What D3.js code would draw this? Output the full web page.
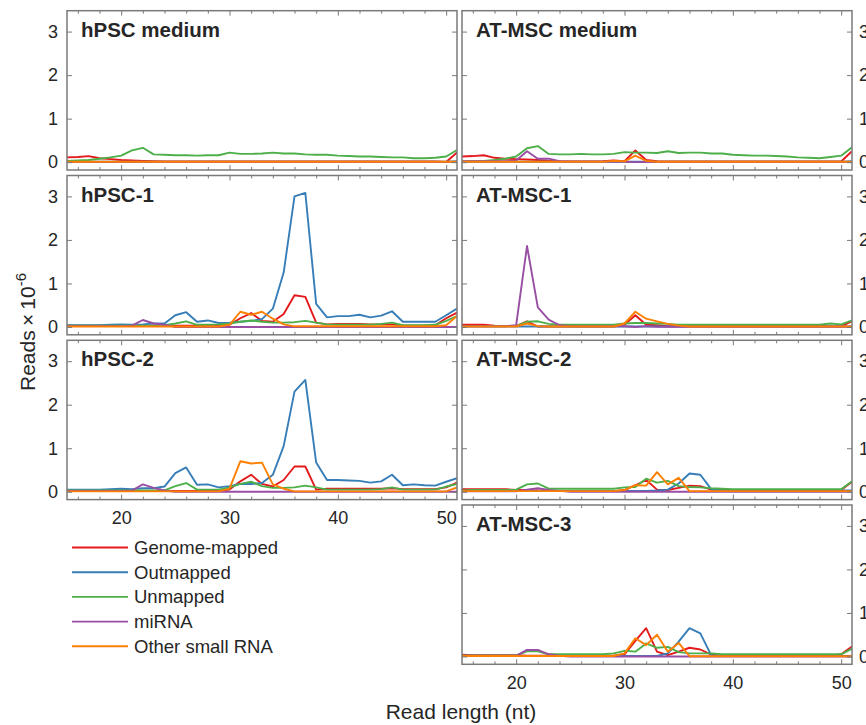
<!DOCTYPE html>
<html>
<head>
<meta charset="utf-8">
<script src="https://cdn.jsdelivr.net/npm/d3@7"></script>
<style>
  body { margin: 0; background: #fff; }
  text { font-family: "Liberation Sans", Arial, sans-serif; fill: #262626; }
</style>
</head>
<body>
<script>
// read length (nt) on the x axis
const readLength = [15,16,17,18,19,20,21,22,23,24,25,26,27,28,29,30,31,32,33,34,35,36,37,38,39,40,41,42,43,44,45,46,47,48,49,50,51];

const seriesNames = ["Genome-mapped", "Outmapped", "Unmapped", "miRNA", "Other small RNA"];
const seriesColors = ["#e41a1c", "#377eb8", "#4daf4a", "#984ea3", "#ff7f00"];
const yTicks = [0, 1, 2, 3];
const xTicks = [20, 30, 40, 50];
const xMinor = [16, 18, 22, 24, 26, 28, 32, 34, 36, 38, 42, 44, 46, 48];

// values are reads x 10^-6, one per read length
const hpscMediumGenome = [0.11,0.12,0.14,0.09,0.07,0.05,0.04,0.03,0.02,0.015,0.015,0.015,0.015,0.015,0.015,0.015,0.015,0.015,0.015,0.015,0.015,0.015,0.015,0.015,0.015,0.015,0.015,0.015,0.015,0.015,0.015,0.015,0.015,0.015,0.015,0.005,0.22];
const hpscMediumOut = [0.01,0.01,0.01,0.01,0.01,0.01,0.01,0.01,0.01,0.01,0.01,0.01,0.01,0.01,0.01,0.01,0.01,0.01,0.01,0.01,0.01,0.01,0.01,0.01,0.01,0.01,0.01,0.01,0.01,0.01,0.01,0.01,0.01,0.01,0.01,0.01,0.02];
const hpscMediumUn = [0.03,0.04,0.05,0.08,0.11,0.15,0.27,0.33,0.18,0.17,0.16,0.16,0.15,0.16,0.16,0.22,0.19,0.19,0.2,0.22,0.2,0.2,0.18,0.17,0.17,0.15,0.14,0.13,0.13,0.12,0.11,0.11,0.09,0.09,0.1,0.13,0.28];
const hpscMediumMi = [0.005,0.005,0.005,0.005,0.005,0.005,0.005,0.005,0.005,0.005,0.005,0.005,0.005,0.005,0.005,0.005,0.005,0.005,0.005,0.005,0.005,0.005,0.005,0.005,0.005,0.005,0.005,0.005,0.005,0.005,0.005,0.005,0.005,0.005,0.005,0.005,0.005];
const hpscMediumOther = [0.01,0.01,0.01,0.01,0.01,0.01,0.01,0.01,0.01,0.01,0.01,0.01,0.01,0.01,0.01,0.01,0.01,0.01,0.01,0.01,0.01,0.01,0.01,0.01,0.01,0.01,0.01,0.01,0.01,0.01,0.01,0.01,0.01,0.01,0.01,0.01,0.01];

const atmscMediumGenome = [0.13,0.14,0.16,0.1,0.08,0.07,0.06,0.05,0.03,0.015,0.015,0.015,0.015,0.02,0.04,0.02,0.27,0.05,0.02,0.015,0.015,0.015,0.015,0.015,0.015,0.015,0.015,0.015,0.015,0.015,0.015,0.015,0.015,0.015,0.015,0.015,0.25];
const atmscMediumOut = [0.01,0.01,0.01,0.01,0.01,0.01,0.01,0.01,0.01,0.01,0.01,0.01,0.01,0.01,0.01,0.01,0.01,0.01,0.01,0.01,0.01,0.01,0.01,0.01,0.01,0.01,0.01,0.01,0.01,0.01,0.01,0.01,0.01,0.01,0.01,0.01,0.02];
const atmscMediumUn = [0.015,0.02,0.03,0.05,0.08,0.13,0.32,0.37,0.19,0.18,0.18,0.19,0.18,0.18,0.19,0.23,0.22,0.22,0.21,0.25,0.21,0.22,0.22,0.2,0.2,0.17,0.16,0.15,0.15,0.14,0.13,0.11,0.1,0.09,0.12,0.15,0.34];
const atmscMediumMi = [0.02,0.02,0.02,0.02,0.02,0.04,0.25,0.08,0.08,0.02,0.01,0.01,0.01,0.01,0.01,0.01,0,0.005,0.005,0.005,0.005,0.005,0.005,0.005,0.005,0.005,0.005,0.005,0.005,0.005,0.005,0.005,0.005,0.005,0.005,0.005,0.005];
const atmscMediumOther = [0.01,0.01,0.01,0.01,0.01,0.01,0.01,0.01,0.01,0.01,0.01,0.01,0.01,0.01,0.03,0.02,0.15,0.03,0.01,0.01,0.01,0.01,0.01,0.01,0.01,0.01,0.01,0.01,0.01,0.01,0.01,0.01,0.01,0.01,0.01,0.01,0.01];

const hpsc1Genome = [0.03,0.03,0.03,0.03,0.03,0.03,0.03,0.03,0.03,0.03,0.03,0.03,0.03,0.03,0.03,0.05,0.2,0.32,0.14,0.12,0.3,0.73,0.69,0.1,0.06,0.07,0.07,0.07,0.06,0.06,0.06,0.03,0.03,0.03,0.04,0.2,0.33];
const hpsc1Out = [0.04,0.04,0.04,0.04,0.05,0.06,0.05,0.06,0.08,0.08,0.27,0.34,0.12,0.15,0.09,0.1,0.12,0.14,0.18,0.42,1.25,3.0,3.08,0.53,0.22,0.25,0.25,0.28,0.22,0.26,0.36,0.12,0.12,0.12,0.12,0.27,0.42];
const hpsc1Un = [0.03,0.03,0.03,0.03,0.03,0.03,0.03,0.03,0.03,0.04,0.08,0.13,0.05,0.05,0.06,0.08,0.12,0.15,0.12,0.1,0.1,0.11,0.14,0.1,0.06,0.05,0.05,0.05,0.05,0.07,0.1,0.04,0.04,0.04,0.05,0.14,0.25];
const hpsc1Mi = [0.02,0.02,0.02,0.02,0.02,0.02,0.03,0.16,0.08,0.05,0,0,0,0,0,0,0,0,0,0,0,0,0,0,0,0,0,0,0,0,0,0,0,0,0,0,0];
const hpsc1Other = [0.01,0.01,0.01,0.01,0.01,0.01,0.01,0.01,0.01,0.01,0.01,0.01,0.01,0.01,0.01,0.05,0.35,0.28,0.35,0.19,0.06,0.015,0.015,0.015,0.015,0.015,0.015,0.015,0.015,0.015,0.015,0.015,0.015,0.015,0.015,0.04,0.25];

const atmsc1Genome = [0.05,0.05,0.05,0.03,0.02,0.02,0.13,0.01,0.01,0.01,0.01,0.01,0.01,0.01,0.01,0.05,0.27,0.05,0.04,0.015,0.015,0.015,0.015,0.015,0.015,0.015,0.015,0.015,0.015,0.015,0.015,0.015,0.015,0.015,0.015,0.015,0.13];
const atmsc1Out = [0.01,0.01,0.01,0.01,0.01,0.01,0.01,0.01,0.01,0.01,0.01,0.01,0.01,0.01,0.01,0.01,0.01,0.01,0.01,0.01,0.01,0.01,0.01,0.01,0.01,0.01,0.01,0.01,0.01,0.01,0.01,0.01,0.01,0.01,0.01,0.01,0.01];
const atmsc1Un = [0.02,0.02,0.02,0.02,0.02,0.02,0.12,0.13,0.07,0.05,0.05,0.05,0.05,0.05,0.05,0.08,0.09,0.09,0.08,0.07,0.05,0.05,0.05,0.05,0.05,0.05,0.05,0.05,0.05,0.05,0.05,0.05,0.05,0.05,0.08,0.06,0.15];
const atmsc1Mi = [0.015,0.015,0.015,0.015,0.015,0.04,1.86,0.45,0.17,0.04,0.015,0.015,0.015,0.015,0.015,0.015,0,0.02,0.005,0.005,0.005,0.005,0.005,0.005,0.005,0.005,0.005,0.005,0.005,0.005,0.005,0.005,0.005,0.005,0.005,0.005,0.005];
const atmsc1Other = [0.01,0.01,0.01,0.01,0.01,0.01,0.08,0.02,0.01,0.01,0.01,0.01,0.01,0.01,0.01,0.08,0.35,0.19,0.13,0.07,0.03,0.01,0.01,0.01,0.01,0.01,0.01,0.01,0.01,0.01,0.01,0.01,0.01,0.01,0.01,0.01,0.01];

const hpsc2Genome = [0.02,0.02,0.02,0.02,0.02,0.02,0.02,0.02,0.02,0.02,0.02,0.02,0.02,0.02,0.02,0.05,0.24,0.39,0.18,0.12,0.27,0.58,0.58,0.05,0.07,0.07,0.07,0.07,0.07,0.07,0.08,0.06,0.06,0.06,0.06,0.1,0.21];
const hpsc2Out = [0.045,0.045,0.05,0.05,0.06,0.07,0.06,0.08,0.08,0.12,0.43,0.56,0.16,0.17,0.1,0.13,0.18,0.18,0.2,0.39,1.05,2.3,2.57,0.67,0.27,0.27,0.26,0.25,0.21,0.24,0.39,0.15,0.17,0.15,0.14,0.23,0.31];
const hpsc2Un = [0.03,0.03,0.03,0.03,0.03,0.03,0.03,0.03,0.03,0.03,0.13,0.2,0.05,0.05,0.05,0.1,0.18,0.23,0.13,0.09,0.09,0.1,0.14,0.1,0.05,0.05,0.05,0.05,0.05,0.06,0.1,0.05,0.05,0.05,0.05,0.12,0.18];
const hpsc2Mi = [0.02,0.02,0.02,0.02,0.02,0.02,0.03,0.17,0.09,0.03,0,0,0,0,0,0,0,0,0,0,0,0,0,0,0,0,0,0,0,0,0,0,0,0,0,0,0];
const hpsc2Other = [0.01,0.01,0.01,0.01,0.01,0.01,0.01,0.01,0.01,0.01,0.01,0.01,0.01,0.01,0.01,0.07,0.7,0.65,0.67,0.17,0.07,0.01,0.01,0.01,0.01,0.01,0.01,0.01,0.01,0.01,0.01,0.01,0.01,0.01,0.01,0.01,0.1];

const atmsc2Genome = [0.06,0.06,0.06,0.06,0.06,0.04,0.04,0.03,0.015,0.015,0.015,0.015,0.015,0.015,0.015,0.04,0.15,0.27,0.05,0.04,0.09,0.14,0.13,0.05,0.04,0.04,0.04,0.04,0.04,0.04,0.04,0.04,0.04,0.04,0.04,0.04,0.23];
const atmsc2Out = [0.02,0.02,0.02,0.02,0.02,0.02,0.02,0.02,0.02,0.02,0.02,0.02,0.02,0.02,0.02,0.02,0.02,0.02,0.03,0.05,0.19,0.42,0.39,0.06,0.03,0.03,0.03,0.03,0.03,0.03,0.03,0.03,0.03,0.03,0.03,0.03,0.03];
const atmsc2Un = [0.03,0.04,0.04,0.04,0.04,0.05,0.17,0.19,0.07,0.07,0.07,0.07,0.07,0.07,0.07,0.1,0.11,0.3,0.21,0.25,0.13,0.11,0.1,0.08,0.07,0.06,0.06,0.06,0.06,0.06,0.06,0.06,0.06,0.06,0.06,0.06,0.24];
const atmsc2Mi = [0.01,0.01,0.01,0.01,0.01,0.01,0.05,0.08,0.04,0.02,0,0,0,0,0,0,0,0,0,0,0,0,0,0,0,0,0,0,0,0,0,0,0,0,0,0,0];
const atmsc2Other = [0.015,0.015,0.015,0.015,0.015,0.015,0.015,0.015,0.015,0.015,0.015,0.015,0.015,0.015,0.015,0.04,0.15,0.14,0.45,0.17,0.32,0.015,0.015,0.015,0.015,0.015,0.015,0.015,0.015,0.015,0.015,0.015,0.015,0.015,0.015,0.015,0.015];

const atmsc3Genome = [0.04,0.03,0.03,0.03,0.03,0.03,0.015,0.015,0.015,0.015,0.015,0.015,0.015,0.015,0.015,0.05,0.36,0.65,0.11,0.03,0.11,0.2,0.16,0.04,0.015,0.015,0.015,0.015,0.015,0.015,0.015,0.015,0.015,0.015,0.015,0.05,0.23];
const atmsc3Out = [0.01,0.01,0.01,0.01,0.01,0.01,0.01,0.01,0.01,0.01,0.01,0.01,0.01,0.01,0.01,0.01,0.01,0.01,0.01,0.07,0.34,0.65,0.53,0.03,0.01,0.01,0.01,0.01,0.01,0.01,0.01,0.01,0.01,0.01,0.01,0.01,0.01];
const atmsc3Un = [0.025,0.025,0.025,0.025,0.025,0.025,0.12,0.12,0.05,0.05,0.05,0.05,0.05,0.05,0.07,0.13,0.11,0.3,0.2,0.22,0.1,0.07,0.07,0.07,0.05,0.05,0.05,0.05,0.05,0.05,0.05,0.05,0.05,0.05,0.05,0.05,0.18];
const atmsc3Mi = [0.015,0.015,0.015,0.015,0.015,0.015,0.15,0.15,0.05,0.015,0,0,0,0,0,0,0,0,0,0,0,0,0,0,0,0,0,0,0,0,0,0,0,0,0,0,0];
const atmsc3Other = [0.01,0.01,0.01,0.01,0.01,0.01,0.01,0.01,0.01,0.01,0.01,0.01,0.01,0.01,0.01,0.07,0.42,0.26,0.5,0.11,0.31,0.005,0.005,0.005,0.005,0.005,0.005,0.005,0.005,0.005,0.005,0.005,0.005,0.005,0.005,0.005,0.005];

const panels = [
  { title: "hPSC medium", col: 0, row: 0, series: [hpscMediumGenome, hpscMediumOut, hpscMediumUn, hpscMediumMi, hpscMediumOther] },
  { title: "hPSC-1", col: 0, row: 1, series: [hpsc1Genome, hpsc1Out, hpsc1Un, hpsc1Mi, hpsc1Other] },
  { title: "hPSC-2", col: 0, row: 2, series: [hpsc2Genome, hpsc2Out, hpsc2Un, hpsc2Mi, hpsc2Other], xLabels: true },
  { title: "AT-MSC medium", col: 1, row: 0, series: [atmscMediumGenome, atmscMediumOut, atmscMediumUn, atmscMediumMi, atmscMediumOther] },
  { title: "AT-MSC-1", col: 1, row: 1, series: [atmsc1Genome, atmsc1Out, atmsc1Un, atmsc1Mi, atmsc1Other] },
  { title: "AT-MSC-2", col: 1, row: 2, series: [atmsc2Genome, atmsc2Out, atmsc2Un, atmsc2Mi, atmsc2Other] },
  { title: "AT-MSC-3", col: 1, row: 3, series: [atmsc3Genome, atmsc3Out, atmsc3Un, atmsc3Mi, atmsc3Other], xLabels: true }
];

const width = 866, height = 725;
const colLeft = [67, 462];
const panelW = 390;
const rowTop = [10.7, 175.5, 340.3, 505];
const panelH = 159.3;
const frameColor = "#7a7a7a";

const svg = d3.select("body").append("svg").attr("width", width).attr("height", height);

panels.forEach((p, pi) => {
  const x0 = colLeft[p.col], y0 = rowTop[p.row];
  const x = d3.scaleLinear().domain([15, 51]).range([x0, x0 + panelW]);
  const y = d3.scaleLinear().domain([-0.18, 3.48]).range([y0 + panelH, y0]);
  const g = svg.append("g");

  const clipId = "clip" + pi;
  g.append("clipPath").attr("id", clipId)
    .append("rect").attr("x", x0).attr("y", y0).attr("width", panelW).attr("height", panelH);

  const line = d3.line().x((d, i) => x(readLength[i])).y(d => y(d));
  g.append("g").attr("clip-path", `url(#${clipId})`)
    .selectAll("path")
    .data(p.series)
    .join("path")
    .attr("d", line)
    .attr("fill", "none")
    .attr("stroke", (d, i) => seriesColors[i])
    .attr("stroke-width", 1.9)
    .attr("stroke-linejoin", "round");

  // y ticks, inside on both sides
  const left = g.append("g").attr("transform", `translate(${x0},0)`)
    .call(d3.axisLeft(y).tickValues(yTicks).tickSize(-5).tickPadding(9)
      .tickFormat(p.col === 0 ? d3.format("d") : ""));
  const right = g.append("g").attr("transform", `translate(${x0 + panelW},0)`)
    .call(d3.axisRight(y).tickValues(yTicks).tickSize(-5).tickPadding(7)
      .tickFormat(p.col === 1 ? d3.format("d") : ""));

  // x ticks, inside on top and bottom
  const bottom = g.append("g").attr("transform", `translate(0,${y0 + panelH})`)
    .call(d3.axisBottom(x).tickValues(xTicks).tickSize(-5).tickPadding(12)
      .tickFormat(p.xLabels ? d3.format("d") : ""));
  const bottomMinor = g.append("g").attr("transform", `translate(0,${y0 + panelH})`)
    .call(d3.axisBottom(x).tickValues(xMinor).tickSize(-3).tickFormat(""));
  const top = g.append("g").attr("transform", `translate(0,${y0})`)
    .call(d3.axisTop(x).tickValues(xTicks).tickSize(-5).tickFormat(""));
  const topMinor = g.append("g").attr("transform", `translate(0,${y0})`)
    .call(d3.axisTop(x).tickValues(xMinor).tickSize(-3).tickFormat(""));

  [left, right, bottom, bottomMinor, top, topMinor].forEach(a => {
    a.select(".domain").remove();
    a.selectAll(".tick line").attr("stroke", frameColor).attr("stroke-width", 1);
    a.selectAll(".tick text").attr("font-size", 18).attr("font-family", "Liberation Sans, Arial, sans-serif").attr("fill", "#262626");
  });

  g.append("rect")
    .attr("x", x0).attr("y", y0).attr("width", panelW).attr("height", panelH)
    .attr("fill", "none").attr("stroke", frameColor).attr("stroke-width", 1.5);

  g.append("text")
    .attr("x", x0 + 14).attr("y", y0 + 26)
    .attr("font-size", 20.5).attr("font-weight", "bold").attr("fill", "#000")
    .text(p.title);
});

// legend in the empty lower-left slot
const legend = svg.append("g").selectAll("g")
  .data(seriesNames)
  .join("g")
  .attr("transform", (d, i) => `translate(0,${547.5 + i * 24.7})`);
legend.append("line")
  .attr("x1", 72).attr("x2", 128).attr("y1", 0).attr("y2", 0)
  .attr("stroke", (d, i) => seriesColors[i]).attr("stroke-width", 1.9);
legend.append("text")
  .attr("x", 134).attr("y", 0).attr("dy", "0.35em")
  .attr("font-size", 18.5)
  .text(d => d);

// axis titles
svg.append("text")
  .attr("x", 461).attr("y", 719)
  .attr("text-anchor", "middle").attr("font-size", 21)
  .text("Read length (nt)");

const yLab = svg.append("text")
  .attr("transform", "translate(35,332) rotate(-90)")
  .attr("text-anchor", "middle").attr("font-size", 21);
yLab.append("tspan").text("Reads\u2009\u00d7\u200910");
yLab.append("tspan").attr("dy", -9).attr("font-size", 15).text("-6");
</script>
</body>
</html>
